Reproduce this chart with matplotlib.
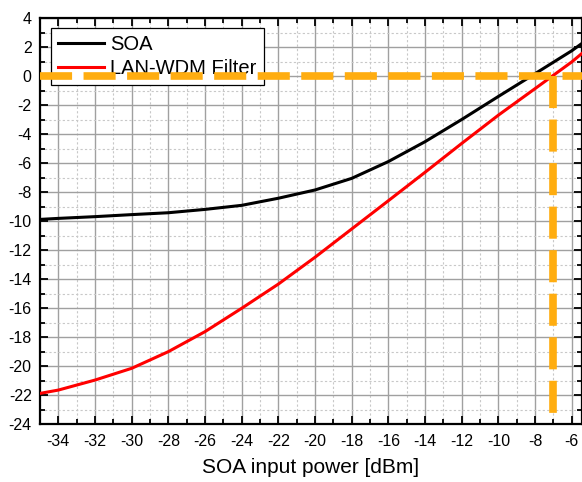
import matplotlib.pyplot as plt
from matplotlib.ticker import MultipleLocator

plt.rcParams['font.family'] = ['Liberation Sans', 'DejaVu Sans']
plt.rcParams['axes.unicode_minus'] = False

# SOA input power [dBm]
power = [-35, -34, -32, -30, -28, -26, -24, -22, -20, -18, -16, -14, -12, -10, -8, -6, -5.44]
# output curves
soa = [-9.89, -9.82, -9.7, -9.56, -9.43, -9.2, -8.92, -8.43, -7.86, -7.06, -5.9, -4.53, -3.0, -1.41, 0.16, 1.74, 2.25]
lanwdm = [-21.89, -21.66, -20.97, -20.16, -19.01, -17.63, -16.02, -14.35, -12.5, -10.55, -8.6, -6.64, -4.65, -2.7, -0.87, 0.97, 1.56]

x_mark = -7
y_mark = 0

fig = plt.figure(figsize=(5.82, 4.82), dpi=100)
ax = fig.add_axes([40 / 582, 1 - 424 / 482, 542 / 582, 406 / 482])

ax.plot(power, soa, color='black', lw=2.2, label='SOA', zorder=4)
ax.plot(power, lanwdm, color='#ff0000', lw=2.2, label='LAN-WDM Filter', zorder=4)

orange = '#ffad10'
ax.axhline(y_mark, color=orange, lw=5.5, dashes=(4.2, 1.5), zorder=7)
ax.plot([x_mark, x_mark], [y_mark, -24], color=orange, lw=5.5, dashes=(4.2, 1.5), zorder=7)

ax.set_xlim(-35, -5.44)
ax.set_ylim(-24, 4)
ax.xaxis.set_major_locator(MultipleLocator(2))
ax.xaxis.set_minor_locator(MultipleLocator(1))
ax.yaxis.set_major_locator(MultipleLocator(2))
ax.yaxis.set_minor_locator(MultipleLocator(1))

ax.grid(which='major', color='#a0a0a0', lw=1.0, ls='-')
ax.grid(which='minor', color='#c8c8c8', lw=0.8, ls=(0, (2, 2)))
ax.set_axisbelow(True)

ax.tick_params(which='both', direction='in', top=True, right=True, labelsize=11.5, width=1.3)
ax.tick_params(which='major', length=6)
ax.tick_params(which='minor', length=3.5)
ax.tick_params(axis='x', pad=7)
ax.tick_params(axis='y', pad=6)
for s in ax.spines.values():
    s.set_linewidth(1.6)

ax.set_xlabel('SOA input power [dBm]', fontsize=15, labelpad=7)

leg = ax.legend(loc='upper left', bbox_to_anchor=(10.7 / 542, 1 - 10.3 / 406), fontsize=14.5,
                frameon=True, fancybox=False, framealpha=1, edgecolor='black',
                handlelength=2.3, handletextpad=0.3, borderpad=0.35, labelspacing=0.25,
                borderaxespad=0)
leg.get_frame().set_linewidth(0.9)
leg.set_zorder(5)

fig.savefig('out.png', dpi=100)
